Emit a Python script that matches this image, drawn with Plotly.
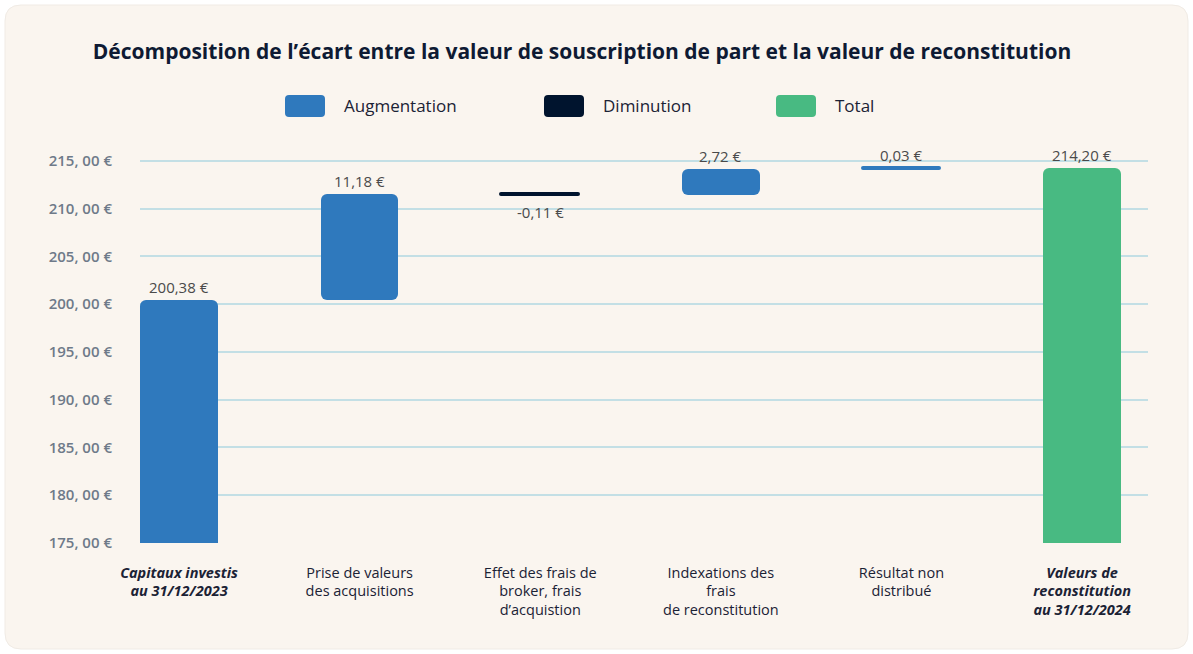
import plotly.graph_objects as go

categories = [
    "<b><i>Capitaux investis<br>au 31/12/2023</i></b>",
    "Prise de valeurs<br>des acquisitions",
    "Effet des frais de<br>broker, frais<br>d’acquistion",
    "Indexations des<br>frais<br>de reconstitution",
    "Résultat non<br>distribué",
    "<b><i>Valeurs de<br>reconstitution<br>au 31/12/2024</i></b>",
]
values = [200.38, 11.18, -0.11, 2.72, 0.03, 214.20]
kinds = ["start", "up", "down", "up", "up", "total"]
value_labels = ["200,38 €", "11,18 €", "-0,11 €", "2,72 €", "0,03 €", "214,20 €"]
tick_vals = [175, 180, 185, 190, 195, 200, 205, 210, 215]
tick_text = ["175, 00 €", "180, 00 €", "185, 00 €", "190, 00 €", "195, 00 €",
             "200, 00 €", "205, 00 €", "210, 00 €", "215, 00 €"]
legend_names = ["Augmentation", "Diminution", "Total"]

BLUE = "#2F79BD"
NAVY = "#00142E"
GREEN = "#48BA82"
FONT = "Open Sans"

W, H = 1193, 654
ML, MR, MT, MB = 140, 45, 155, 111
PW, PH = W - ML - MR, H - MT - MB

def px(x):
    return (x - ML) / PW

def py(y):
    return (H - MB - y) / PH

# compute bases / tops
bases, tops = [], []
running = 0.0
for v, k in zip(values, kinds):
    if k in ("start", "total"):
        bases.append(0.0)
        tops.append(v)
        running = v
    else:
        b = running
        running = running + v
        bases.append(min(b, running))
        tops.append(max(b, running))

colors = [BLUE if k in ("start", "up") else NAVY if k == "down" else GREEN for k in kinds]
heights = [t - b for t, b in zip(tops, bases)]
line_w = [3 if h < 0.5 else 0 for h in heights]

fig = go.Figure()
fig.add_trace(go.Bar(
    x=list(range(len(categories))), y=heights, base=bases,
    marker=dict(color=colors, cornerradius=6,
                line=dict(color=colors, width=line_w)),
    width=0.43, showlegend=False, hoverinfo="skip",
))

annotations = []
for i, (lab, v, t, b) in enumerate(zip(value_labels, values, tops, bases)):
    if v < 0:
        annotations.append(dict(x=i, y=b, text=lab, showarrow=False, yanchor="top",
                                yshift=-5, font=dict(family=FONT, size=15, color="#4A4A4A")))
    else:
        annotations.append(dict(x=i, y=t, text=lab, showarrow=False, yanchor="bottom",
                                yshift=1, font=dict(family=FONT, size=15, color="#4A4A4A")))

# background panel (rounded)
x0, x1, y0, y1, r = px(5), px(1188), py(649), py(5), 16
rx, ry = r / PW, r / PH
panel = (f"M {x0+rx} {y0} L {x1-rx} {y0} Q {x1} {y0} {x1} {y0+ry} L {x1} {y1-ry} "
         f"Q {x1} {y1} {x1-rx} {y1} L {x0+rx} {y1} Q {x0} {y1} {x0} {y1-ry} "
         f"L {x0} {y0+ry} Q {x0} {y0} {x0+rx} {y0} Z")
shapes = [dict(type="path", xref="paper", yref="paper", layer="below", path=panel,
               fillcolor="#FAF5EF", line=dict(color="#F0EBE5", width=1))]

legend_colors = [BLUE, NAVY, GREEN]
legend_x = [285, 544, 776]
for name, col, lx in zip(legend_names, legend_colors, legend_x):
    sx0, sx1, sy0, sy1 = px(lx), px(lx + 40), py(117), py(95)
    srx, sry = 4 / PW, 4 / PH
    sw = (f"M {sx0+srx} {sy0} L {sx1-srx} {sy0} Q {sx1} {sy0} {sx1} {sy0+sry} L {sx1} {sy1-sry} "
          f"Q {sx1} {sy1} {sx1-srx} {sy1} L {sx0+srx} {sy1} Q {sx0} {sy1} {sx0} {sy1-sry} "
          f"L {sx0} {sy0+sry} Q {sx0} {sy0} {sx0+srx} {sy0} Z")
    shapes.append(dict(type="path", xref="paper", yref="paper", path=sw,
                       fillcolor=col, line=dict(color=col, width=0), layer="above"))
    annotations.append(dict(xref="paper", yref="paper", x=px(lx + 57), y=py(105),
                            text=name, showarrow=False, xanchor="left", yanchor="middle",
                            font=dict(family=FONT, size=17, color="#1B2235")))

fig.update_layout(
    width=W, height=H,
    paper_bgcolor="white", plot_bgcolor="rgba(0,0,0,0)",
    margin=dict(l=ML, r=MR, t=MT, b=MB, autoexpand=False),
    title=dict(text="<b>Décomposition de l’écart entre la valeur de souscription de part et la valeur de reconstitution</b>",
               x=(582) / W, xanchor="center", y=1 - 52 / H, yanchor="middle",
               font=dict(family=FONT, size=21, color="#0E1A33")),
    shapes=shapes, annotations=annotations,
    xaxis=dict(tickmode="array", tickvals=list(range(len(categories))), ticktext=categories,
               range=[-0.216, 5.365], showgrid=False, zeroline=False, showline=False,
               tickfont=dict(family=FONT, size=14.5, color="#1B2235"), ticks="",
               ticklabelstandoff=19, tickangle=0, automargin=False),
    yaxis=dict(range=[175, 215.6], tickmode="array", tickvals=tick_vals, ticktext=tick_text,
               showgrid=True, gridcolor="#C3DFE5", gridwidth=2, zeroline=False,
               tickfont=dict(family=FONT, size=15, color="#6E7A89", weight=600), ticks="",
               ticklabelstandoff=27, automargin=False),
    bargap=0,
)

fig.write_html("out.html", config={"displayModeBar": False},
               post_script="document.body.style.margin='0';document.body.style.padding='0';")
